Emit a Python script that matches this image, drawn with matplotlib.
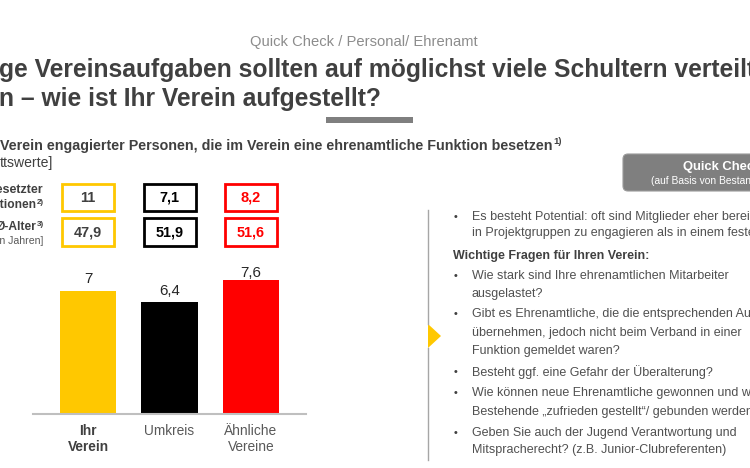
import matplotlib
matplotlib.use("Agg")
import matplotlib.pyplot as plt
from matplotlib.patches import Rectangle, FancyBboxPatch, Polygon

plt.rcParams['font.family'] = ['Liberation Sans', 'DejaVu Sans']

# ---- data ----
categories = ["Ihr\nVerein", "Umkreis", "Ähnliche\nVereine"]
bar_values = [7, 6.4, 7.6]
bar_labels = ["7", "6,4", "7,6"]
funktionen = ["11", "7,1", "8,2"]
alter = ["47,9", "51,9", "51,6"]
colors = ["#FFC800", "#000000", "#FF0000"]
text_colors = ["#404040", "#000000", "#FF0000"]

bullets = [
    ("b", ["Es besteht Potential: oft sind Mitglieder eher bereit, sich",
           "in Projektgruppen zu engagieren als in einem festen Amt"]),
    ("h", ["Wichtige Fragen für Ihren Verein:"]),
    ("b", ["Wie stark sind Ihre ehrenamtlichen Mitarbeiter",
           "ausgelastet?"]),
    ("b", ["Gibt es Ehrenamtliche, die die entsprechenden Aufgaben",
           "übernehmen, jedoch nicht beim Verband in einer",
           "Funktion gemeldet waren?"]),
    ("b", ["Besteht ggf. eine Gefahr der Überalterung?"]),
    ("b", ["Wie können neue Ehrenamtliche gewonnen und wie können",
           "Bestehende „zufrieden gestellt“/ gebunden werden?"]),
    ("b", ["Geben Sie auch der Jugend Verantwortung und",
           "Mitspracherecht? (z.B. Junior-Clubreferenten)"]),
]

W, H = 750, 468
fig = plt.figure(figsize=(W / 100, H / 100), dpi=100)
fig.patch.set_facecolor("white")
renderer = fig.canvas.get_renderer()

def px(v):
    return v * 0.72

ov = fig.add_axes([0, 0, 1, 1])
ov.set_xlim(0, W)
ov.set_ylim(H, 0)
ov.axis("off")

DG = "#404040"

def sup_after(t, label, dy=-4, size=9, weight="bold", color=DG):
    bb = t.get_window_extent(renderer=renderer)
    xd = bb.x1
    y = H - (bb.y0 + bb.y1) / 2
    ov.text(xd + 0.5, y + dy, label, ha="left", va="center", fontsize=px(size),
            fontweight=weight, color=color)

ov.text(364, 42, "Quick Check / Personal/ Ehrenamt", ha="center", va="center",
        fontsize=px(14.8), color="#8C8C8C")
ov.text(-1, 70, "ge Vereinsaufgaben sollten auf möglichst viele Schultern verteilt",
        ha="left", va="center", fontsize=px(24.6), fontweight="bold", color=DG)
ov.text(-1, 99, "n – wie ist Ihr Verein aufgestellt?",
        ha="left", va="center", fontsize=px(24.6), fontweight="bold", color=DG)
ov.add_patch(Rectangle((326, 117), 87, 6, color="#7F7F7F", lw=0))

t = ov.text(0, 146, "Verein engagierter Personen, die im Verein eine ehrenamtliche Funktion besetzen",
            ha="left", va="center", fontsize=px(14.2), fontweight="bold", color=DG)
sup_after(t, "1)", dy=-4, size=9.5)
ov.text(0, 163, "ttswerte]", ha="left", va="center", fontsize=px(14), color=DG)

# row labels
ov.text(43, 190, "besetzter", ha="right", va="center", fontsize=px(12.5), fontweight="bold", color=DG)
t = ov.text(36, 205, "Funktionen", ha="right", va="center", fontsize=px(12), fontweight="bold", color=DG)
sup_after(t, "2)", dy=-3, size=8)
t = ov.text(36, 227, "Ø-Alter", ha="right", va="center", fontsize=px(12), fontweight="bold", color=DG)
sup_after(t, "3)", dy=-3, size=8)
ov.text(43, 241, "[in Jahren]", ha="right", va="center", fontsize=px(10.5), color="#595959")

# bar axes
x0, x1 = 33, 306
ybase, ytop = 414, 414 - 8 * 17.57
ax = fig.add_axes([x0 / W, 1 - ybase / H, (x1 - x0) / W, (ybase - ytop) / H])
pos = list(range(len(categories)))
bars = ax.bar(pos, bar_values, width=0.69, color=colors, zorder=2)
ax.set_xlim(-0.675, 2.675)
ax.set_ylim(0, 8)
for s in ["top", "right", "left"]:
    ax.spines[s].set_visible(False)
ax.spines["bottom"].set_color("#BFBFBF")
ax.spines["bottom"].set_linewidth(1.5)
ax.set_yticks([])
ax.set_xticks(pos)
ax.set_xticklabels(categories, fontsize=px(13.8), color="#595959", linespacing=1.12)
ax.tick_params(axis="x", length=0, pad=7.5)
ax.get_xticklabels()[0].set_fontweight("bold")
ax.get_xticklabels()[0].set_color(DG)
offsets = [12, 11, 7]
for b, lab, off in zip(bars, bar_labels, offsets):
    ax.annotate(lab, (b.get_x() + b.get_width() / 2, b.get_height()),
                xytext=(0, off), textcoords="offset pixels", ha="center", va="center",
                fontsize=px(15), color="#262626")

# value boxes
centres = [88, 169.5, 251]
for i, c in enumerate(centres):
    for (yt, yb, val) in [(184, 211, funktionen[i]), (218, 246, alter[i])]:
        ov.add_patch(Rectangle((c - 26 + 1.5, yt + 1.5), 52, yb - yt, facecolor="#D0D0D0",
                               edgecolor="none", alpha=0.5, zorder=1))
        ov.add_patch(Rectangle((c - 26, yt), 52, yb - yt, facecolor="white",
                               edgecolor=colors[i], lw=2, zorder=2))
        ov.text(c, (yt + yb) / 2 + 0.5, val, ha="center", va="center", fontsize=px(14.5),
                fontweight="bold", color=text_colors[i], zorder=3)

# right panel
ov.add_patch(FancyBboxPatch((623, 154), 200, 37, boxstyle="round,pad=0,rounding_size=5",
                            facecolor="#7F7F7F", edgecolor="#9A9A9A", lw=0.8))
ov.text(683, 167, "Quick Check", ha="left", va="center", fontsize=px(13),
        fontweight="bold", color="white")
ov.text(651, 181, "(auf Basis von Bestandsdaten)", ha="left", va="center",
        fontsize=px(10.3), color="white")

ov.plot([428, 428], [210, 324], color="#A6A6A6", lw=1)
ov.plot([428, 428], [348, 460], color="#A6A6A6", lw=1)
ov.add_patch(Polygon([[428, 324], [441, 336], [428, 348]], closed=True,
                     facecolor="#FFC800", edgecolor="none"))

line_y = [217, 233, 256, 276, 294, 314, 333, 351, 372, 393, 412, 433, 450]
k = 0
for kind, lines in bullets:
    for j, ln in enumerate(lines):
        y = line_y[k]
        if kind == "h":
            ov.text(453, y, ln, ha="left", va="center", fontsize=px(12.5),
                    fontweight="bold", color=DG)
        else:
            if j == 0:
                ov.text(454, y, "•", ha="left", va="center", fontsize=px(11), color=DG)
            ov.text(472, y, ln, ha="left", va="center", fontsize=px(12.5), color="#505050")
        k += 1

fig.savefig("out.png", dpi=100, facecolor="white")
